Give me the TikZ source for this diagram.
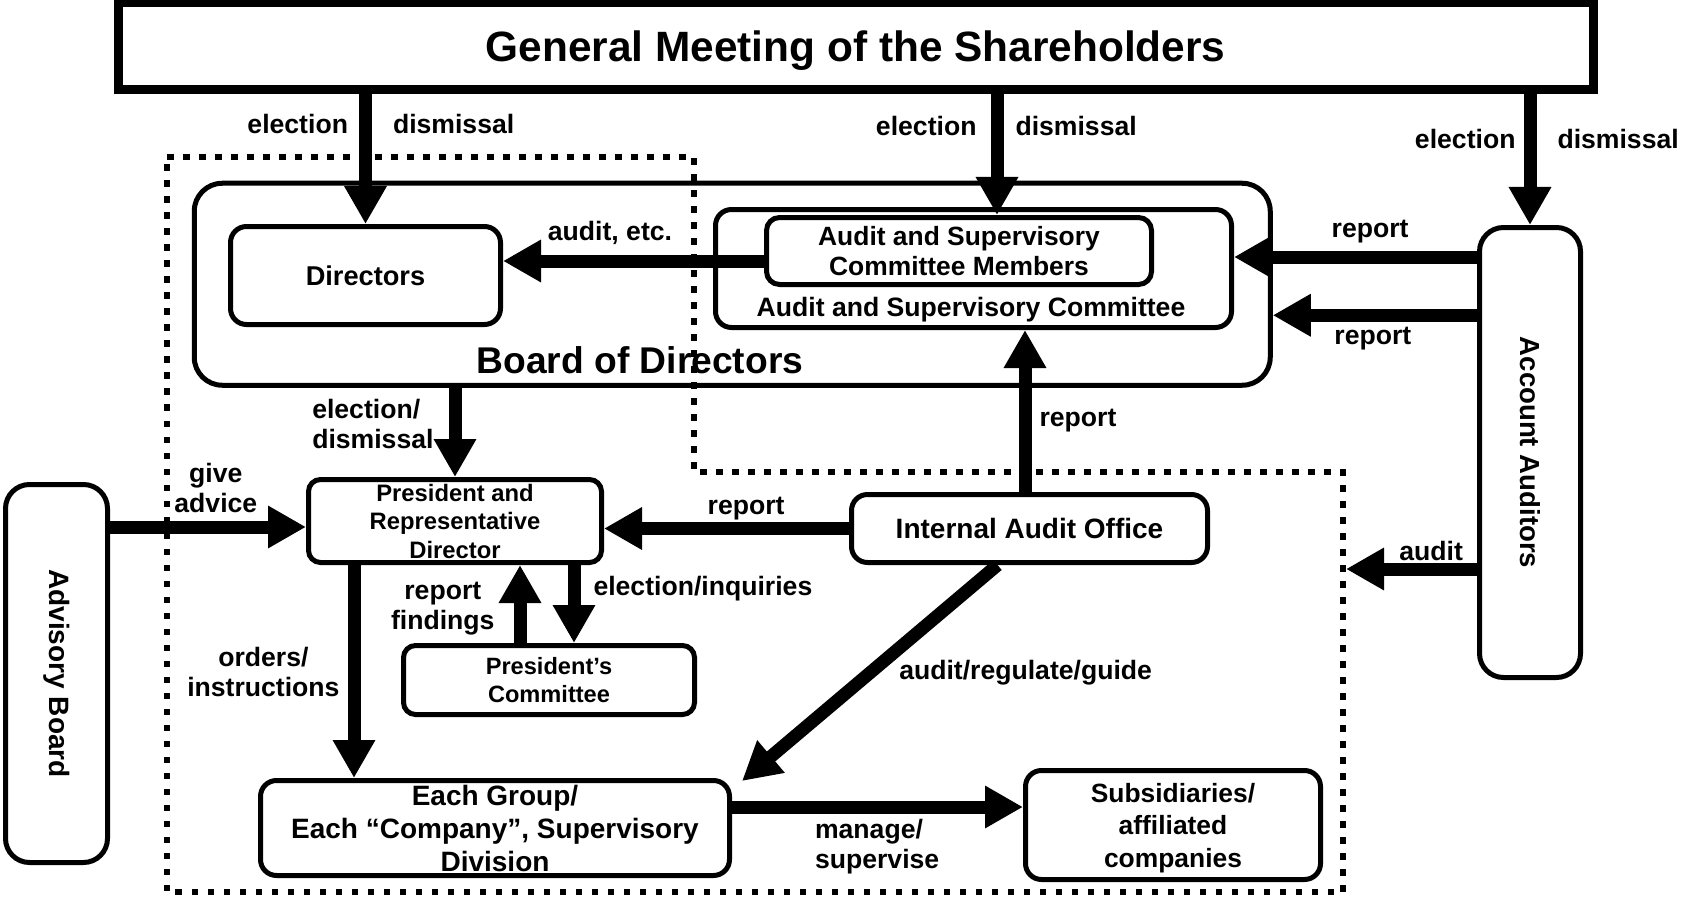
\documentclass[tikz,border=0pt]{standalone}
\usepackage{fontspec}
\setmainfont{Liberation Sans}
\usetikzlibrary{arrows.meta,positioning}

\tikzset{
  box/.style={draw, line width=2.5pt, rounded corners=8pt, align=center, inner sep=0pt},
  arr/.style={line width=6.5pt, -{Triangle[length=19pt,width=20pt]}},
  lbl/.style={inner sep=0pt, align=center, font=\bfseries\fontsize{13.3}{15}\selectfont},
}

\begin{document}
\begin{tikzpicture}[x=0.5pt,y=-0.5pt]
  \useasboundingbox (0,0) rectangle (1682,899);

  % the dotted frame round the executive side
  \draw[line width=3.25pt, dash pattern=on 3.25pt off 4.75pt]
    (167,157) -- (694,157) -- (694,472) -- (1343,472) -- (1343,892) -- (167,892) -- cycle;

  \node (gm)   [draw, line width=4.5pt, minimum width=737.5pt, minimum height=43.5pt, text depth=0pt,
                font=\bfseries\fontsize{21.2}{25}\selectfont] at (855.5,46.5) {General Meeting of the Shareholders};

  \node (board) [box, rounded corners=14pt, minimum width=538pt, minimum height=101pt] at (732.25,284.25) {};
  \node (boardlbl) [font=\bfseries\fontsize{18.6}{22}\selectfont] at (640,360) {Board of Directors};
  \node (dir)  [box, minimum width=135pt, minimum height=49pt,
                font=\bfseries\fontsize{13.6}{16}\selectfont] at (365.5,275.5) {Directors};
  \node (asc)  [box, minimum width=258pt, minimum height=59pt] at (973.5,268.5) {};
  \node (ascm) [box, rounded corners=6.5pt, minimum width=192.5pt, minimum height=33.5pt,
                font=\bfseries\fontsize{13.2}{15}\selectfont] at (959,251) {Audit and Supervisory\\Committee Members};
  \node (asclbl) [lbl] at (971,310) {Audit and Supervisory Committee};

  \node (aa)   [box, rounded corners=12pt, minimum width=50.5pt, minimum height=225pt] at (1530,452.5) {};
  \node (aalbl) [rotate=-90, font=\bfseries\fontsize{13.8}{16}\selectfont] at (aa) {Account Auditors};
  \node (ab)   [box, rounded corners=12pt, minimum width=51pt, minimum height=189pt] at (56.5,673.5) {};
  \node (ablbl) [rotate=-90, font=\bfseries\fontsize{14}{16}\selectfont] at (ab) {Advisory Board};

  \node (pres) [box, rounded corners=6pt, minimum width=146.5pt, minimum height=41.5pt,
                font=\bfseries\fontsize{11.9}{14.25}\selectfont] at (455,521) {President and\\Representative\\Director};
  \node (pc)   [box, rounded corners=6pt, minimum width=145.5pt, minimum height=34.5pt,
                font=\bfseries\fontsize{11.8}{14}\selectfont] at (549,680) {President’s\\Committee};
  \node (iao)  [box, minimum width=178pt, minimum height=34pt,
                font=\bfseries\fontsize{14}{16}\selectfont] at (1029.5,528.5) {Internal Audit Office};
  \node (eg)   [box, minimum width=234.5pt, minimum height=47.5pt,
                font=\bfseries\fontsize{14}{16.5}\selectfont] at (495,828) {Each Group/\\Each “Company”, Supervisory\\Division};
  \node (sub)  [box, minimum width=147.5pt, minimum height=54.5pt, text depth=0pt,
                font=\bfseries\fontsize{13.2}{16.25}\selectfont] at (1173,825) {Subsidiaries/\\affiliated\\companies};

  \coordinate (ascin) at ([xshift=19pt]ascm.north);
  \coordinate (aud)   at ([yshift=-5pt]ascm.west);
  \coordinate (rep1)  at ([yshift=5.75pt]asc.east);
  \coordinate (rep2)  at ([yshift=-15.5pt]board.east);
  \coordinate (grp)   at (1346,569);
  \coordinate (adv)   at ([yshift=-3pt]pres.west);
  \coordinate (iaoup) at ([xshift=-2.25pt]iao.north);
  \coordinate (fnd)   at ([xshift=32.5pt]pres.south);
  \coordinate (inq)   at ([xshift=59.5pt]pres.south);
  \coordinate (ord)   at ([xshift=-50.5pt]pres.south);
  \coordinate (mng)   at ([yshift=10.5pt]eg.east);

  \draw[arr] (gm.south -| dir.north) -- (dir.north)
    node[lbl, pos=.23, left=5.5pt] {election}
    node[lbl, pos=.23, right=10.5pt] {dismissal};
  \draw[arr] (ascin |- gm.south) -- (ascin)
    node[lbl, pos=.26, left=7pt] {election}
    node[lbl, pos=.26, right=6pt] {dismissal};
  \draw[arr] (gm.south -| aa.north) -- (aa.north)
    node[lbl, pos=.34, left=4pt] {election}
    node[lbl, pos=.34, right=10.5pt] {dismissal};

  \draw[arr] (aud) -- (aud -| dir.east) node[lbl, pos=.59, yshift=14pt] {audit, etc.};
  \draw[arr] (rep1 -| aa.west) -- (rep1) node[lbl, pos=.44, yshift=12.5pt] {report};
  \draw[arr] (rep2 -| aa.west) -- (rep2) node[lbl, pos=.51, yshift=-11.5pt] {report};
  \draw[arr] (aa.west |- grp) -- (grp) node[lbl, pos=.35, yshift=9pt] {audit};

  \draw[arr] (board.south -| pres.north) -- (pres.north)
    node[lbl, pos=.41, left=7.5pt, align=left] {election/\\dismissal};
  \draw[arr] (adv -| ab.east) -- (adv) node[lbl, pos=.54, yshift=19.5pt] {give\\advice};
  \draw[arr] (iao.west) -- (iao.west -| pres.east) node[lbl, pos=.42, yshift=10pt] {report};
  \draw[arr] (iaoup) -- (iaoup |- asc.south) node[lbl, pos=.44, right=4pt] {report};

  \draw[arr] (fnd |- pc.north) -- (fnd) node[lbl, pos=.44, left=9.5pt] {report\\findings};
  \draw[arr] (inq) -- (inq |- pc.north) node[lbl, pos=.3, right=6.5pt] {election/inquiries};
  \draw[arr] (ord) -- (ord |- eg.north) node[lbl, pos=.5, left=4pt] {orders/\\instructions};

  \draw[arr] ([xshift=-16pt]iao.south) -- ([xshift=5pt,yshift=-1.5pt]eg.north east)
    node[lbl, pos=.5, right=11.5pt] {audit/regulate/guide};
  \draw[arr] (mng) -- (mng -| sub.west)
    node[lbl, pos=.263, anchor=west, yshift=-20pt, align=left] {manage/\\supervise};
\end{tikzpicture}
\end{document}
